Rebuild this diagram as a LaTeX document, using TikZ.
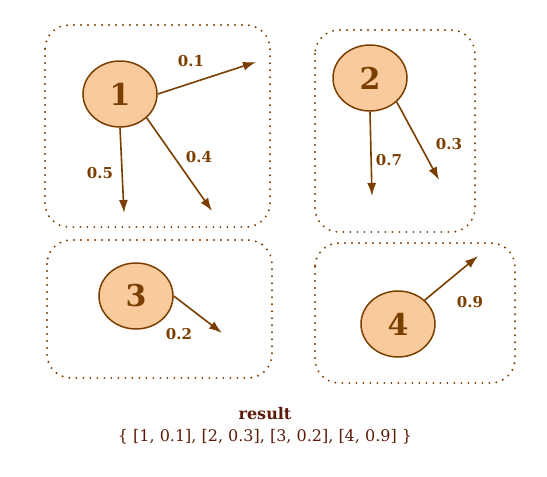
\documentclass[tikz,border=0pt]{standalone}
\usepackage{fontspec}
\setmainfont{DejaVu Serif}
\usetikzlibrary{arrows.meta,shapes.geometric}
\definecolor{edgebrown}{HTML}{7A3E00}
\definecolor{nodefill}{HTML}{F9CB9C}
\definecolor{resred}{HTML}{5C1A0B}
\tikzset{
  state/.style={ellipse, draw=edgebrown, fill=nodefill, line width=1.5pt,
    minimum width=74pt, minimum height=66pt, inner sep=0pt,
    text=edgebrown, font=\fontsize{30}{30}\selectfont\bfseries},
  grp/.style={draw=edgebrown, line width=2.2pt, line cap=round,
    dash pattern=on 0pt off 7pt, rounded corners=24pt},
  wt/.style={-{Latex[length=13pt,width=9pt]}, draw=edgebrown, line width=1.6pt},
  wlabel/.style={text=edgebrown, font=\fontsize{15}{15}\selectfont\bfseries}
}
\begin{document}
\begin{tikzpicture}[x=1pt, y=-1pt]
  \useasboundingbox (0,0) rectangle (547,477);
  % groups
  \draw[grp] (45,25) rectangle (270,227);
  \draw[grp] (315,30) rectangle (475,232);
  \draw[grp] (47,240) rectangle (272,378);
  \draw[grp] (315,243) rectangle (515,383);

  % states
  \node[state] (n1) at (120,94) {1};
  \node[state] (n2) at (370,78) {2};
  \node[state] (n3) at (136,296) {3};
  \node[state] (n4) at (398,324) {4};

  % arrow ends
  \coordinate (e1a) at (256,62);
  \coordinate (e1b) at (124,213);
  \coordinate (e1c) at (212,211);
  \coordinate (e2a) at (372,196);
  \coordinate (e2b) at (439,180);
  \coordinate (e3a) at (222,333);
  \coordinate (e4a) at (478,256);

  \draw[wt] (n1.east) -- (e1a);
  \draw[wt] (n1.south) -- (e1b);
  \draw[wt] (n1.south east) -- (e1c);
  \draw[wt] (n2.south) -- (e2a);
  \draw[wt] (n2.south east) -- (e2b);
  \draw[wt] (n3.east) -- (e3a);
  \draw[wt] (n4.north east) -- (e4a);

  % weights
  \node[wlabel] (w1a) at (191,61) {0.1};
  \node[wlabel] (w1b) at (100,173) {0.5};
  \node[wlabel] (w1c) at (199,157) {0.4};
  \node[wlabel] (w2a) at (389,160) {0.7};
  \node[wlabel] (w2b) at (449,144) {0.3};
  \node[wlabel] (w3a) at (179,334) {0.2};
  \node[wlabel] (w4a) at (470,302) {0.9};

  % result
  \node[text=resred, font=\fontsize{16}{16}\selectfont\bfseries] (res) at (265,414) {result};
  \node[text=resred, font=\fontsize{16}{16}\selectfont] (resval) at (265,437)
    {\{ [1, 0.1], [2, 0.3], [3, 0.2], [4, 0.9] \}};
\end{tikzpicture}
\end{document}
